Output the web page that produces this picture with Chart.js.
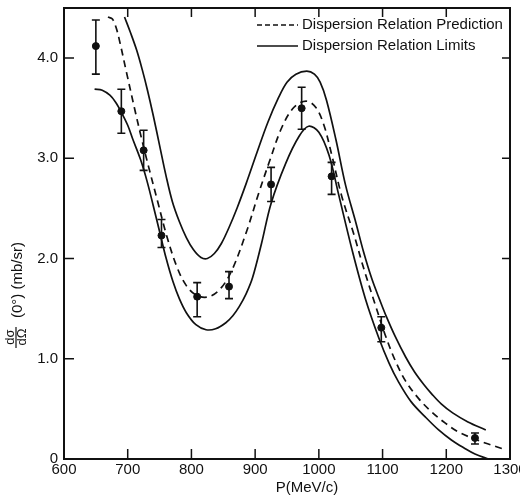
<!DOCTYPE html>
<html lang="en">
<head>
<meta charset="UTF-8">
<title>Dispersion Relation</title>
<script src="https://cdn.jsdelivr.net/npm/chart.js"></script>
<style>
  html, body { margin: 0; padding: 0; background: #fff; overflow: hidden; }
  #wrap { width: 560px; height: 498px; }
</style>
</head>
<body>
<div id="wrap"><canvas id="grafico" width="560" height="498"></canvas></div>
<script>
// measured points with error bars
const pMeas = [650, 690, 725, 753, 809, 859, 925, 973, 1020, 1098, 1245];
const sigMeas = [4.12, 3.47, 3.08, 2.23, 1.62, 1.72, 2.74, 3.50, 2.82, 1.31, 0.21];
const errHigh = [4.38, 3.69, 3.28, 2.39, 1.76, 1.87, 2.91, 3.71, 2.96, 1.42, 0.26];
const errLow = [3.84, 3.25, 2.88, 2.11, 1.42, 1.60, 2.57, 3.29, 2.64, 1.17, 0.15];

// dispersion relation prediction (dashed)
const predP = [669, 676, 682, 688, 698, 711, 722, 733, 747, 761, 777, 792, 809, 828, 847, 864, 886, 906, 922, 942, 961, 980, 995, 1008, 1020, 1036, 1055, 1070, 1089, 1104, 1120, 1136, 1157, 1177, 1198, 1219, 1240, 1261, 1280, 1294];
const predSig = [4.41, 4.39, 4.30, 4.15, 3.86, 3.49, 3.19, 2.91, 2.57, 2.23, 1.92, 1.73, 1.63, 1.62, 1.71, 1.89, 2.26, 2.66, 2.96, 3.31, 3.51, 3.57, 3.51, 3.33, 3.04, 2.62, 2.24, 1.91, 1.53, 1.24, 0.98, 0.78, 0.60, 0.47, 0.36, 0.27, 0.21, 0.16, 0.12, 0.09];

// dispersion relation limits (solid)
const upperP = [695, 704, 714, 723, 731, 740, 750, 760, 770, 781, 792, 803, 815, 825, 836, 847, 859, 872, 886, 903, 920, 937, 950, 964, 981, 993, 1002, 1012, 1027, 1042, 1058, 1070, 1083, 1096, 1106, 1120, 1136, 1150, 1165, 1177, 1192, 1210, 1234, 1262];
const upperSig = [4.41, 4.26, 4.08, 3.88, 3.68, 3.43, 3.13, 2.83, 2.57, 2.37, 2.21, 2.09, 2.01, 2.00, 2.05, 2.15, 2.31, 2.51, 2.75, 3.06, 3.36, 3.61, 3.76, 3.84, 3.87, 3.84, 3.76, 3.58, 3.18, 2.73, 2.36, 2.07, 1.80, 1.58, 1.42, 1.22, 1.02, 0.87, 0.74, 0.65, 0.55, 0.46, 0.37, 0.29];
const lowerP = [648, 660, 672, 681, 690, 700, 708, 720, 730, 740, 750, 760, 771, 781, 792, 807, 823, 838, 854, 865, 875, 886, 896, 910, 925, 948, 969, 984, 1000, 1016, 1031, 1052, 1073, 1094, 1110, 1125, 1145, 1167, 1188, 1208, 1228, 1245, 1266];
const lowerSig = [3.69, 3.68, 3.63, 3.56, 3.46, 3.33, 3.19, 2.99, 2.78, 2.53, 2.27, 2.01, 1.77, 1.60, 1.46, 1.34, 1.29, 1.30, 1.36, 1.43, 1.52, 1.65, 1.81, 2.15, 2.55, 2.95, 3.22, 3.32, 3.26, 3.03, 2.64, 2.09, 1.60, 1.21, 0.96, 0.77, 0.57, 0.42, 0.29, 0.19, 0.11, 0.05, 0.0];

const xTicks = [600, 700, 800, 900, 1000, 1100, 1200, 1300];
const yTicks = [0, 1, 2, 3, 4];
const legendLabels = ['Dispersion Relation Prediction', 'Dispersion Relation Limits'];

const ink = '#111';
const fonte = '"Liberation Sans", Arial, sans-serif';

function pontos(xs, ys) {
    return xs.map((x, i) => ({ x: x, y: ys[i] }));
}

function textoVertical(ctx, txt, x, y, font) {
    ctx.save();
    ctx.translate(x, y);
    ctx.rotate(-Math.PI / 2);
    ctx.font = font;
    ctx.textAlign = 'center';
    ctx.textBaseline = 'middle';
    ctx.fillText(txt, 0, 0);
    ctx.restore();
}

// frame, inward ticks, error bars, legend and axis titles
const extras = {
    id: 'extras',
    afterDatasetsDraw(chart) {
        const ctx = chart.ctx;
        const a = chart.chartArea;
        const sx = chart.scales.x;
        const sy = chart.scales.y;
        ctx.save();
        ctx.strokeStyle = ink;
        ctx.fillStyle = ink;

        ctx.lineWidth = 2;
        ctx.strokeRect(a.left, a.top, a.right - a.left, a.bottom - a.top);

        ctx.lineWidth = 1.5;
        ctx.beginPath();
        xTicks.forEach(v => {
            const px = sx.getPixelForValue(v);
            ctx.moveTo(px, a.bottom); ctx.lineTo(px, a.bottom - 10);
            ctx.moveTo(px, a.top); ctx.lineTo(px, a.top + 9);
        });
        yTicks.forEach(v => {
            const py = sy.getPixelForValue(v);
            ctx.moveTo(a.left, py); ctx.lineTo(a.left + 10, py);
            ctx.moveTo(a.right, py); ctx.lineTo(a.right - 8, py);
        });
        ctx.stroke();

        // error bars
        ctx.lineWidth = 1.6;
        ctx.beginPath();
        pMeas.forEach((p, i) => {
            const px = sx.getPixelForValue(p);
            const hi = sy.getPixelForValue(errHigh[i]);
            const lo = sy.getPixelForValue(errLow[i]);
            ctx.moveTo(px, hi); ctx.lineTo(px, lo);
            ctx.moveTo(px - 4, hi); ctx.lineTo(px + 4, hi);
            ctx.moveTo(px - 4, lo); ctx.lineTo(px + 4, lo);
        });
        ctx.stroke();

        // legend
        ctx.font = '15px ' + fonte;
        ctx.textBaseline = 'middle';
        ctx.textAlign = 'left';
        ctx.lineWidth = 1.4;
        ctx.setLineDash([5, 3]);
        ctx.beginPath(); ctx.moveTo(257, 25); ctx.lineTo(298, 25); ctx.stroke();
        ctx.setLineDash([]);
        ctx.beginPath(); ctx.moveTo(257, 46); ctx.lineTo(298, 46); ctx.stroke();
        ctx.fillText(legendLabels[0], 302, 25);
        ctx.fillText(legendLabels[1], 302, 46);

        // x title
        ctx.textAlign = 'center';
        ctx.fillText('P(MeV/c)', 307, 488);

        // y title: dσ/dΩ (0°) (mb/sr)
        textoVertical(ctx, 'dσ', 10, 337, '13px ' + fonte);
        textoVertical(ctx, 'dΩ', 22, 337, '13px ' + fonte);
        ctx.lineWidth = 1.2;
        ctx.beginPath(); ctx.moveTo(16, 327); ctx.lineTo(16, 348); ctx.stroke();
        textoVertical(ctx, '(0°) (mb/sr)', 18, 280, '15px ' + fonte);

        ctx.restore();
    }
};

const linha = {
    showLine: true,
    borderColor: ink,
    borderWidth: 1.7,
    pointRadius: 0,
    fill: false,
    tension: 0.35
};

new Chart(document.getElementById('grafico'), {
    type: 'scatter',
    data: {
        datasets: [
            Object.assign({ label: legendLabels[0], data: pontos(predP, predSig), borderDash: [7, 5] }, linha),
            Object.assign({ label: legendLabels[1], data: pontos(upperP, upperSig) }, linha),
            Object.assign({ label: 'lower', data: pontos(lowerP, lowerSig) }, linha),
            {
                label: 'data',
                data: pontos(pMeas, sigMeas),
                pointRadius: 3.5,
                pointBackgroundColor: ink,
                pointBorderColor: ink,
                showLine: false
            }
        ]
    },
    options: {
        responsive: false,
        animation: false,
        devicePixelRatio: 1,
        layout: { padding: { left: 0, right: 50, top: 8, bottom: 0 } },
        plugins: { legend: { display: false }, tooltip: { enabled: false } },
        scales: {
            x: {
                type: 'linear',
                min: 600,
                max: 1300,
                grid: { display: false, drawTicks: false },
                border: { display: false },
                afterBuildTicks: s => { s.ticks = xTicks.map(v => ({ value: v })); },
                afterFit: s => { s.height = 39; s.paddingLeft = 0; s.paddingRight = 0; },
                ticks: {
                    color: ink,
                    padding: 3,
                    maxRotation: 0,
                    font: { family: fonte, size: 15, lineHeight: 1 },
                    callback: v => String(v)
                }
            },
            y: {
                type: 'linear',
                min: 0,
                max: 4.5,
                grid: { display: false, drawTicks: false },
                border: { display: false },
                afterBuildTicks: s => { s.ticks = yTicks.map(v => ({ value: v })); },
                afterFit: s => { s.width = 64; s.paddingTop = 0; s.paddingBottom = 0; },
                ticks: {
                    color: ink,
                    padding: 6,
                    font: { family: fonte, size: 15, lineHeight: 1 },
                    callback: v => v === 0 ? '0' : v.toFixed(1)
                }
            }
        }
    },
    plugins: [extras]
});
</script>
</body>
</html>
